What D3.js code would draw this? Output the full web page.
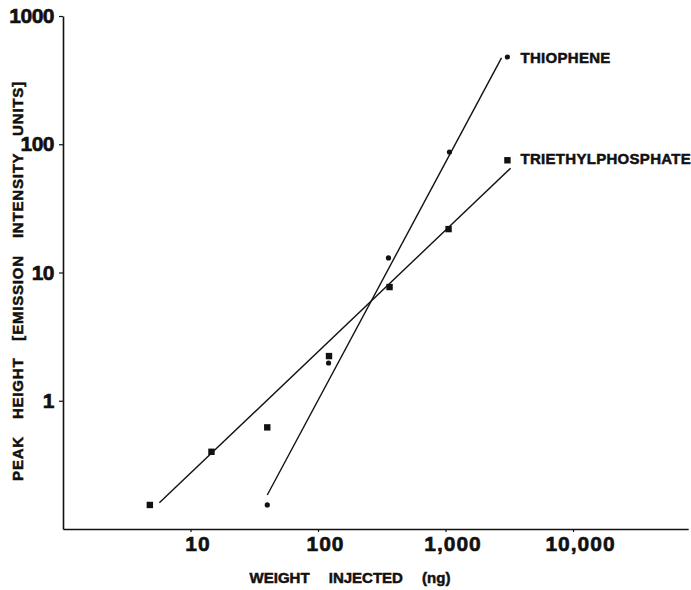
<!DOCTYPE html>
<html>
<head>
<meta charset="utf-8">
<script src="https://cdn.jsdelivr.net/npm/d3@7"></script>
<style>
  body { margin: 0; background: #fff; }
  svg { display: block; }
  text { font-family: "Liberation Sans", Arial, sans-serif; font-weight: bold; fill: #111; }
</style>
</head>
<body>
<div id="chart-holder"></div>
<script>
// data (log-log)
var tepWeight = [4.8, 14.6, 40, 122, 364, 1057, 3060];
var tepHeight = [0.154, 0.40, 0.62, 2.23, 7.7, 21.8, 75];
var thioWeight = [40, 121, 357, 1074, 3060];
var thioHeight = [0.154, 1.97, 13.0, 87, 479];

// straight fit lines, end points
var tepFitWeight = [5.7, 3240];
var tepFitHeight = [0.16, 65];
var thioFitWeight = [40, 2750];
var thioFitHeight = [0.184, 471];

var seriesNames = ["THIOPHENE", "TRIETHYLPHOSPHATE"];

var xTicks = [10, 100, 1000, 10000];
var xTickLabels = ["10", "100", "1,000", "10,000"];
var yTicks = [1, 10, 100, 1000];
var yTickLabels = ["1", "10", "100", "1000"];

var xTitle = "WEIGHT INJECTED (ng)";
var yTitle = "PEAK HEIGHT [EMISSION INTENSITY UNITS]";

var width = 691, height = 590;

var svg = d3.select("#chart-holder").append("svg")
  .attr("width", width)
  .attr("height", height);

svg.append("rect").attr("width", width).attr("height", height).attr("fill", "#fff");

// scales
var x = d3.scaleLog().domain([1, 80000]).range([63, 63 + 127.5 * Math.log10(80000)]);
var y = d3.scaleLog().domain([0.1, 1000]).range([529, 16]);

// x axis
var xAxis = svg.append("g")
  .attr("transform", "translate(0," + y(0.1) + ")")
  .call(d3.axisBottom(x)
    .tickValues(xTicks)
    .tickFormat(function (d, i) { return xTickLabels[i]; })
    .tickSize(3)
    .tickSizeOuter(0)
    .tickPadding(4));
xAxis.select(".domain").attr("stroke", "#111").attr("stroke-width", 1.6);
xAxis.selectAll(".tick line").attr("stroke", "#111").attr("stroke-width", 1.2);
xAxis.selectAll(".tick text")
  .attr("font-size", 21)
  .attr("letter-spacing", 1)
  .attr("dx", 7)
  .attr("fill", "#111")
  .attr("stroke", "#111")
  .attr("stroke-width", 0.6);

// y axis
var yAxis = svg.append("g")
  .attr("transform", "translate(" + x(1) + ",0)")
  .call(d3.axisLeft(y)
    .tickValues(yTicks)
    .tickFormat(function (d, i) { return yTickLabels[i]; })
    .tickSize(4)
    .tickSizeOuter(0)
    .tickPadding(5));
yAxis.select(".domain").attr("stroke", "#111").attr("stroke-width", 1.6);
yAxis.selectAll(".tick line").attr("stroke", "#111").attr("stroke-width", 1.2);
yAxis.selectAll(".tick text")
  .attr("font-size", 21)
  .attr("letter-spacing", -0.5)
  .attr("fill", "#111")
  .attr("stroke", "#111")
  .attr("stroke-width", 0.6);

// axis titles
svg.append("text")
  .attr("x", 350)
  .attr("y", 583)
  .attr("text-anchor", "middle")
  .attr("font-size", 15)
  .attr("word-spacing", 15)
  .attr("stroke", "#111")
  .attr("stroke-width", 0.5)
  .text(xTitle);

svg.append("text")
  .attr("transform", "translate(23,281) rotate(-90)")
  .attr("text-anchor", "middle")
  .attr("font-size", 15)
  .attr("letter-spacing", 0.8)
  .attr("word-spacing", 12)
  .attr("stroke", "#111")
  .attr("stroke-width", 0.5)
  .text(yTitle);

// fit lines
var fits = [
  d3.zip(thioFitWeight, thioFitHeight),
  d3.zip(tepFitWeight, tepFitHeight)
];
var valueline = d3.line()
  .x(function (d) { return x(d[0]); })
  .y(function (d) { return y(d[1]); });

svg.selectAll("path.fit")
  .data(fits)
  .enter()
  .append("path")
  .attr("class", "fit")
  .attr("d", valueline)
  .attr("fill", "none")
  .attr("stroke", "#111")
  .attr("stroke-width", 1.4);

// triethylphosphate: squares
var tep = d3.zip(tepWeight, tepHeight);
svg.selectAll("rect.tep")
  .data(tep)
  .enter()
  .append("rect")
  .attr("class", "tep")
  .attr("x", function (d) { return x(d[0]) - 3.2; })
  .attr("y", function (d) { return y(d[1]) - 3.2; })
  .attr("width", 6.4)
  .attr("height", 6.4)
  .attr("fill", "#111");

// thiophene: dots
var thio = d3.zip(thioWeight, thioHeight);
svg.selectAll("circle.thio")
  .data(thio)
  .enter()
  .append("circle")
  .attr("class", "thio")
  .attr("cx", function (d) { return x(d[0]); })
  .attr("cy", function (d) { return y(d[1]); })
  .attr("r", 2.6)
  .attr("fill", "#111");

// series labels next to last point
var lastPoints = [thio[thio.length - 1], tep[tep.length - 1]];
svg.selectAll("text.series")
  .data(lastPoints)
  .enter()
  .append("text")
  .attr("class", "series")
  .attr("x", function (d) { return x(d[0]) + 13; })
  .attr("y", function (d, i) { return y(d[1]) + (i == 0 ? 6 : 4); })
  .attr("font-size", 15)
  .attr("letter-spacing", 0.3)
  .attr("stroke", "#111")
  .attr("stroke-width", 0.5)
  .text(function (d, i) { return seriesNames[i]; });
</script>
</body>
</html>
